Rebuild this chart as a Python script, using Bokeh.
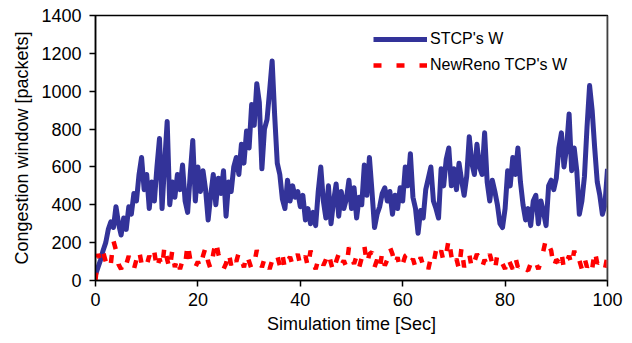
import numpy as np
from bokeh.plotting import figure
from bokeh.models import Legend, LegendItem, FixedTicker, Span, Range1d
from bokeh.embed import file_html
from bokeh.resources import INLINE

# time axis (s), one sample every 0.5 s
time_s = np.arange(0, 100.5, 0.5)

stcp_w = [
    30, 70, 110, 160, 200, 270, 310, 280, 390, 300, 240, 330, 270, 390, 350, 460, 420, 560, 650, 480,
    560, 380, 520, 420, 600, 750, 380, 620, 840, 400, 520, 440, 560, 480, 610, 420, 360, 560, 740, 420,
    600, 470, 580, 480, 320, 450, 560, 400, 540, 460, 580, 340, 520, 470, 600, 650, 560, 720, 620, 790,
    700, 930, 820, 1040, 940, 590, 800, 850, 1000, 1160, 870, 620, 560, 430, 380, 530, 420, 500, 440, 470,
    390, 450, 320, 380, 300, 360, 290, 470, 600, 420, 330, 500, 300, 420, 510, 340, 470, 380, 430, 530,
    380, 490, 330, 440, 400, 610, 450, 650, 470, 280, 350, 390, 460, 490, 420, 470, 350, 450, 380, 490,
    420, 600, 500, 670, 440, 380, 250, 370, 330, 480, 540, 600, 420, 380, 330, 590, 500, 640, 700, 500,
    590, 480, 620, 530, 450, 550, 760, 620, 560, 720, 600, 560, 780, 520, 420, 530, 470, 400, 300, 280,
    380, 580, 500, 650, 560, 700, 520, 400, 320, 380, 290, 420, 450, 300, 420, 360, 290, 500, 530, 480,
    540, 700, 780, 600, 700, 880, 580, 700, 580, 350, 420, 550, 810, 1030, 900, 700, 520, 450, 350, 400,
    590,
]

newreno_w = [
    0, 140, 100, 150, 100, 130, 90, 210, 160, 85, 60, 110, 85, 130, 70, 60, 110, 160, 90, 60,
    80, 130, 100, 150, 60, 115, 70, 185, 110, 60, 160, 70, 120, 60, 105, 80, 195, 110, 120, 70,
    100, 65, 130, 175, 100, 60, 140, 210, 140, 90, 60, 90, 150, 80, 130, 100, 150, 110, 70, 140,
    100, 60, 90, 160, 120, 70, 115, 115, 60, 105, 90, 130, 80, 140, 60, 100, 125, 80, 100, 140,
    80, 97, 130, 70, 158, 97, 60, 110, 123, 80, 110, 150, 90, 44, 100, 140, 80, 106, 70, 176,
    120, 88, 130, 70, 120, 185, 88, 140, 150, 70, 110, 60, 150, 79, 110, 176, 140, 80, 123, 60,
    88, 130, 140, 90, 114, 70, 62, 123, 80, 100, 60, 120, 90, 158, 120, 158, 100, 140, 220, 130,
    80, 114, 60, 176, 70, 110, 140, 62, 100, 140, 114, 70, 110, 79, 140, 90, 53, 140, 100, 88,
    60, 123, 90, 60, 123, 70, 88, 97, 60, 53, 90, 70, 97, 60, 100, 160, 220, 190, 158, 70,
    110, 97, 150, 60, 97, 130, 80, 158, 90, 106, 60, 120, 70, 100, 60, 158, 90, 106, 97, 60,
    132,
]

x_ticks = [0, 20, 40, 60, 80, 100]
y_ticks = [0, 200, 400, 600, 800, 1000, 1200, 1400]
series_names = ["STCP's W", "NewReno TCP's W"]

FONT = "Liberation Sans"

p = figure(width=632, height=343, output_backend="svg", toolbar_location=None,
           x_range=Range1d(0, 100), y_range=Range1d(0, 1400),
           min_border_left=95, min_border_right=25, min_border_top=15, min_border_bottom=63)
p.background_fill_color = "white"
p.border_fill_color = "white"
p.outline_line_color = "black"
p.outline_line_width = 1.5
p.xgrid.visible = False
p.ygrid.visible = False

r_stcp = p.line(time_s, stcp_w, line_color="#333399", line_width=5, line_join="round")
r_reno = p.line(time_s, newreno_w, line_color="#ff0000", line_width=4.5, line_dash="8 15")

p.add_layout(Span(location=100, dimension="height", line_color="#808080", line_width=2))

for ax, ticks in ((p.xaxis[0], x_ticks), (p.yaxis[0], y_ticks)):
    ax.ticker = FixedTicker(ticks=ticks)
    ax.minor_tick_line_color = None
    ax.major_tick_out = 6
    ax.major_tick_in = 0
    ax.axis_line_width = 1.5
    ax.major_tick_line_width = 1.5
    ax.axis_line_color = "black"
    ax.major_tick_line_color = "black"
    ax.major_label_text_font = FONT
    ax.major_label_text_font_size = "18px"
    ax.major_label_text_color = "black"
    ax.axis_label_text_font = FONT
    ax.axis_label_text_font_size = "18px"
    ax.axis_label_text_font_style = "normal"
    ax.axis_label_text_color = "black"

p.xaxis.axis_label = "Simulation time [Sec]"
p.yaxis.axis_label = "Congestion window [packets]"
p.xaxis.major_label_standoff = 6
p.yaxis.major_label_standoff = 8
p.xaxis.axis_label_standoff = 5
p.yaxis.axis_label_standoff = 6

legend = Legend(items=[LegendItem(label=series_names[0], renderers=[r_stcp]),
                       LegendItem(label=series_names[1], renderers=[r_reno])],
                location=(278, 206))
legend.border_line_color = None
legend.background_fill_alpha = 0
legend.padding = 0
legend.margin = 0
legend.spacing = 8
legend.glyph_width = 54
legend.glyph_height = 18
legend.label_height = 18
legend.label_standoff = 3
legend.label_text_font = FONT
legend.label_text_font_size = "16px"
legend.label_text_color = "black"
p.add_layout(legend)

open("out.html", "w").write(file_html(p, INLINE))
